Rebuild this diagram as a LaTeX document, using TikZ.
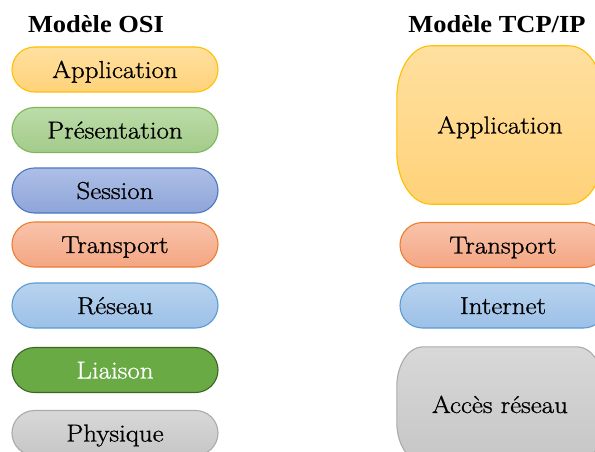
\documentclass[tikz,border=0pt]{standalone}
\usepackage{fontspec}
\newfontfamily\titlefont{Liberation Serif}[FakeStretch=1.08]
\newfontfamily\boxfont{Latin Modern Roman}[FakeBold=1, FakeStretch=1.1]
\usetikzlibrary{shapes.misc,backgrounds}
\definecolor{appB}{HTML}{FFC000}
\definecolor{appT}{HTML}{FFE0A0}
\definecolor{appL}{HTML}{FFD279}
\definecolor{preB}{HTML}{7DB858}
\definecolor{preT}{HTML}{BCDCA9}
\definecolor{preL}{HTML}{A3CB8A}
\definecolor{sesB}{HTML}{4A77C6}
\definecolor{sesT}{HTML}{AEBFE6}
\definecolor{sesL}{HTML}{8EA5D9}
\definecolor{traB}{HTML}{ED7D31}
\definecolor{traT}{HTML}{F9C3AA}
\definecolor{traL}{HTML}{F4A683}
\definecolor{resB}{HTML}{5B9BD5}
\definecolor{resT}{HTML}{B8D3EF}
\definecolor{resL}{HTML}{9CC0E7}
\definecolor{liaB}{HTML}{3B6626}
\definecolor{liaF}{HTML}{6AAA45}
\definecolor{phyB}{HTML}{ABABAB}
\definecolor{phyT}{HTML}{D8D8D8}
\definecolor{phyL}{HTML}{C6C6C6}
\tikzset{
  layer/.style={rounded rectangle, minimum width=206pt, minimum height=45pt,
    inner sep=0pt, line width=1.1pt, text height=20pt, text depth=3pt,
    font=\boxfont\fontsize{24.5}{28}\selectfont},
  bigbox/.style={rectangle, minimum width=206pt, inner sep=0pt,
    text height=20pt, text depth=3pt,
    font=\boxfont\fontsize{24.5}{28}\selectfont},
  title/.style={font=\titlefont\bfseries\fontsize{24.5}{28}\selectfont, inner sep=0pt},
  appS/.style={draw=appB, top color=appT, bottom color=appL},
  preS/.style={draw=preB, top color=preT, bottom color=preL},
  sesS/.style={draw=sesB, top color=sesT, bottom color=sesL},
  traS/.style={draw=traB, top color=traT, bottom color=traL},
  resS/.style={draw=resB, top color=resT, bottom color=resL},
  liaS/.style={draw=liaB, fill=liaF, text=white},
  phyS/.style={draw=phyB, top color=phyT, bottom color=phyL},
  outline/.style={line width=1.1pt}
}
\newcommand\softbox[4]{%
  \path[outline,#4] ([xshift=#2]#1.north west) -- ([xshift=-#2]#1.north east)
    arc[start angle=90,end angle=0,x radius=#2,y radius=#3]
    -- ([yshift=#3]#1.south east)
    arc[start angle=0,end angle=-90,x radius=#2,y radius=#3]
    -- ([xshift=#2]#1.south west)
    arc[start angle=270,end angle=180,x radius=#2,y radius=#3]
    -- ([yshift=-#3]#1.north west)
    arc[start angle=180,end angle=90,x radius=#2,y radius=#3] -- cycle;}
\begin{document}
\begin{tikzpicture}[x=1pt,y=-1pt]
\useasboundingbox (0,0) rectangle (595,452);
% titles
\node[title] (tosi) at (96,24) {Modèle OSI};
\node[title] (ttcp) at (497,24) {Modèle TCP/IP};
% OSI layers
\node[layer,appS] (oapp) at (115,69.5) {Application};
\node[layer,preS] (opre) at (115,130) {Présentation};
\node[layer,sesS] (oses) at (115,190.5) {Session};
\node[layer,traS] (otra) at (115,244.5) {Transport};
\node[layer,resS] (ores) at (115,305.5) {Réseau};
\node[layer,liaS] (olia) at (115,370) {Liaison};
\node[layer,phyS] (ophy) at (115,433) {Physique};
% TCP/IP layers
\node[bigbox,minimum height=158pt] (tapp) at (500,125) {Application};
\node[layer,traS] (ttra) at (503,245) {Transport};
\node[layer,resS] (tint) at (503,305.5) {Internet};
\node[bigbox,minimum height=115pt] (tacc) at (500,404.5) {Accès réseau};
\begin{scope}[on background layer]
  \fill[white] (0,0) rectangle (595,452);
  \softbox{tapp}{34pt}{52pt}{appS}
  \softbox{tacc}{26pt}{40pt}{phyS}
\end{scope}
\end{tikzpicture}
\end{document}
